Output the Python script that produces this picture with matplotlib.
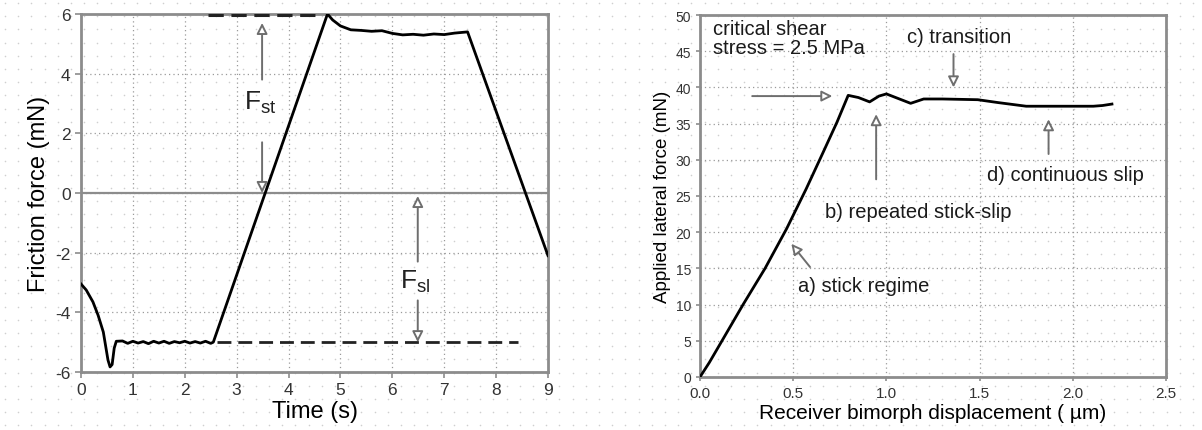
import numpy as np
import matplotlib
matplotlib.use('Agg')
import matplotlib.pyplot as plt

plt.rcParams['font.family'] = ['Liberation Sans', 'DejaVu Sans']
plt.rcParams['mathtext.fontset'] = 'custom'
plt.rcParams['mathtext.rm'] = 'Liberation Sans'
plt.rcParams['axes.unicode_minus'] = False

# ---- friction force vs time ----
time_s = [0.0, 0.1, 0.23, 0.33, 0.43, 0.52, 0.56, 0.6, 0.64, 0.68, 0.8,
          0.9, 1.0, 1.1, 1.2, 1.3, 1.4, 1.5, 1.6, 1.7, 1.8, 1.9, 2.0,
          2.1, 2.2, 2.3, 2.4, 2.5, 2.55,
          4.75, 4.85, 5.0, 5.2, 5.4, 5.6, 5.8, 6.0, 6.2, 6.4, 6.6, 6.8,
          7.0, 7.2, 7.45, 9.0]
friction = [-3.05, -3.25, -3.65, -4.1, -4.66, -5.6, -5.83, -5.75, -5.2, -4.97, -4.96,
            -5.04, -4.97, -5.03, -4.98, -5.05, -4.97, -5.03, -4.97, -5.04, -4.98, -5.02, -4.97,
            -5.03, -4.98, -5.03, -4.97, -5.04, -5.0,
            6.0, 5.8, 5.6, 5.47, 5.45, 5.42, 5.44, 5.35, 5.3, 5.32, 5.29, 5.33,
            5.31, 5.36, 5.4, -2.1]
static_level = 5.95
static_span = [2.45, 4.5]
sliding_level = -5.0
sliding_span = [2.62, 8.42]

# ---- lateral force vs bimorph displacement ----
disp_um = [0.0, 0.05, 0.118, 0.231, 0.349, 0.465, 0.57, 0.66, 0.735, 0.795,
           0.85, 0.91, 0.96, 1.0, 1.06, 1.13, 1.2, 1.3, 1.49, 1.6,
           1.75, 1.9, 2.0, 2.11, 2.16, 2.21]
lateral_mN = [0.0, 2.0, 5.0, 10.0, 15.0, 20.5, 26.0, 31.0, 35.2, 38.9,
              38.6, 38.0, 38.8, 39.1, 38.5, 37.8, 38.4, 38.4, 38.3, 37.9,
              37.4, 37.4, 37.4, 37.4, 37.5, 37.7]

W, H = 1202, 431
fig = plt.figure(figsize=(W / 100, H / 100), dpi=100)
fig.patch.set_facecolor('white')

# faint dot texture over the whole page
bg = fig.add_axes([0, 0, 1, 1], zorder=-5)
gx, gy = np.meshgrid(np.arange(5, W, 13.2), np.arange(4, H, 13.2))
bg.scatter(gx.ravel(), gy.ravel(), s=1.3, color='#cfcfcf', lw=0)
bg.set_xlim(0, W)
bg.set_ylim(H, 0)
bg.axis('off')

FRAME = '#8c8c8c'
GRID = dict(color='#9a9a9a', linestyle=(0, (1, 2.5)), linewidth=0.9)
ARROW = dict(arrowstyle='-|>', fc='white', ec='#6e6e6e', lw=1.4,
             mutation_scale=16, shrinkA=0, shrinkB=0)


def style_axes(ax):
    ax.set_facecolor('none')
    for sp in ax.spines.values():
        sp.set_color(FRAME)
        sp.set_linewidth(2.0)
    ax.grid(True, **GRID)
    ax.set_axisbelow(True)
    ax.tick_params(direction='out', color=FRAME, width=1.2, length=4,
                   labelcolor='#333333')


# ---------- left panel ----------
ax1 = fig.add_axes([81 / W, 1 - 373 / H, (548 - 81) / W, (373 - 15) / H])
style_axes(ax1)
ax1.set_xlim(0, 9)
ax1.set_ylim(-6, 6)
ax1.set_xticks(range(0, 10))
ax1.set_yticks(range(-6, 7, 2))
ax1.tick_params(labelsize=12.5)
ax1.axhline(0, color='#8c8c8c', lw=1.6, zorder=1)

ax1.plot(time_s, friction, color='black', lw=2.0, zorder=4)
ax1.plot(static_span, [static_level] * 2, color='#222222', lw=2.2,
         dashes=(5, 2.5), zorder=3)
ax1.plot(sliding_span, [sliding_level] * 2, color='#222222', lw=2.0,
         dashes=(5, 2.5), zorder=3)

# F_st marker arrows
ax1.annotate('', xy=(3.49, 5.7), xytext=(3.49, 3.8), arrowprops=ARROW)
ax1.annotate('', xy=(3.49, 0.0), xytext=(3.49, 1.7), arrowprops=ARROW)
ax1.text(3.45, 3.05, r'$\mathregular{F_{st}}$', fontsize=19, ha='center',
         va='center', color='#222222')
# F_sl marker arrows
ax1.annotate('', xy=(6.49, -0.1), xytext=(6.49, -2.3), arrowprops=ARROW)
ax1.annotate('', xy=(6.49, -5.0), xytext=(6.49, -3.6), arrowprops=ARROW)
ax1.text(6.45, -2.95, r'$\mathregular{F_{sl}}$', fontsize=19, ha='center',
         va='center', color='#222222')

ax1.set_xlabel('Time (s)', fontsize=17, labelpad=2)
ax1.set_ylabel('Friction force (mN)', fontsize=17, labelpad=4)

# ---------- right panel ----------
ax2 = fig.add_axes([700 / W, 1 - 378 / H, (1166 - 700) / W, (378 - 16) / H])
style_axes(ax2)
ax2.set_xlim(0, 2.5)
ax2.set_ylim(0, 50)
ax2.set_xticks(np.arange(0, 2.51, 0.5))
ax2.set_xticklabels([f'{v:.1f}' for v in np.arange(0, 2.51, 0.5)])
ax2.set_yticks(range(0, 51, 5))
ax2.tick_params(axis='x', labelsize=11, length=3)
ax2.tick_params(axis='y', labelsize=10, length=3)

ax2.plot(disp_um, lateral_mN, color='black', lw=2.0, zorder=4)

TXT = dict(fontsize=14.5, color='#1a1a1a')
ax2.text(0.07, 46.8, 'critical shear\nstress = 2.5 MPa', ha='left',
         va='center', linespacing=1.0, **TXT)
ax2.annotate('', xy=(0.71, 38.8), xytext=(0.28, 38.8), arrowprops=ARROW)

ax2.text(1.11, 47.0, 'c) transition', ha='left', va='center', **TXT)
ax2.annotate('', xy=(1.36, 40.0), xytext=(1.36, 44.6), arrowprops=ARROW)

ax2.text(0.67, 22.9, 'b) repeated stick-slip', ha='left', va='center', **TXT)
ax2.annotate('', xy=(0.945, 36.3), xytext=(0.945, 27.3), arrowprops=ARROW)

ax2.text(0.525, 12.6, 'a) stick regime', ha='left', va='center', **TXT)
ax2.annotate('', xy=(0.49, 18.4), xytext=(0.59, 15.2), arrowprops=ARROW)

ax2.text(1.54, 28.0, 'd) continuous slip', ha='left', va='center', **TXT)
ax2.annotate('', xy=(1.87, 35.6), xytext=(1.87, 30.8), arrowprops=ARROW)

ax2.set_xlabel('Receiver bimorph displacement ( \u00b5m)', fontsize=15,
               labelpad=2)
ax2.set_ylabel('Applied lateral force (mN)', fontsize=13.5, labelpad=3)

fig.savefig('out.png', dpi=100, facecolor='white')
